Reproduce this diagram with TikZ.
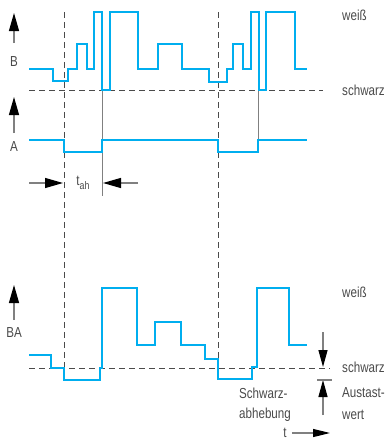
\documentclass[tikz,border=0pt]{standalone}
\usepackage{fontspec}
\setmainfont{Liberation Sans}[FakeStretch=0.8]
\usetikzlibrary{arrows.meta}
\definecolor{sigblue}{HTML}{00AEEF}
\definecolor{txtgray}{HTML}{4A4A4A}
\tikzset{
  signal/.style={line width=2.6pt, draw=sigblue},
  levelline/.style={dash pattern=on 6pt off 4pt, line width=1pt, draw=txtgray},
  marker/.style={line width=1pt, draw=gray},
  bigtip/.style={-{Triangle[length=18pt,width=10pt,black]}, line width=1.2pt, draw=gray},
  lbl/.style={text=txtgray, font=\fontsize{14.5}{17}\selectfont, inner sep=0pt},
}
\begin{document}
\begin{tikzpicture}[x=1pt,y=-1pt]
\useasboundingbox (0,0) rectangle (389,442);
% Bezugspegel
\draw [levelline] (29,90) -- (323,90);
\draw [levelline] (29,368) -- (330,368);
\draw [levelline] (64,12) -- (64,368);
\draw [levelline] (218,12) -- (218,359);
\draw [marker] (102,90) -- (102,196);
\draw [marker] (258,90) -- (258,140);
% Signale
\draw [signal] (29,69) -| (53,81) -| (68,69) -| (77,44) -| (87,69) -| (94,12) -| (102,90) -| (110,12)
  -| (138,69) -| (158,44) -| (182,69) -| (209,82) -| (227,69) -| (233,44) -| (243,69) -| (251,12)
  -| (259,90) -| (266,12) -| (295,69) -- (307,69);
\draw [signal] (29,140) -| (64,152) -| (102,140) -| (218,152) -| (258,140) -- (307,140);
\draw [signal] (29,355) -| (51,368) -| (64,380) -| (100,368) -| (102,288) -| (137,345) -| (155,322)
  -| (181,345) -| (205,359) -| (218,379) -| (252,367) -| (257,288) -| (289,345) -- (307,345);
% Achsen
\node [lbl] (lblB) at (14,62) {B};
\node [lbl] (lblA) at (14,147) {A};
\node [lbl] (lblBA) at (14,333) {BA};
\draw [bigtip] (14,43) -- (14,13);
\draw [bigtip] (14,133) -- (14,97);
\draw [bigtip] (14,320) -- (14,285);
% t_ah
\node [lbl] (tah) at (83,183) {t\raisebox{-0.6ex}{\fontsize{11}{13}\selectfont ah}};
\draw [bigtip] (29,183) -- (63,183);
\draw [bigtip] (138,183) -- (103,183);
% Pegelnamen
\node [lbl, anchor=west] (weiss1) at (342,15) {weiß};
\node [lbl, anchor=west] (schwarz1) at (342,90) {schwarz};
\node [lbl, anchor=west] (weiss2) at (342,292) {weiß};
\node [lbl, anchor=west] (schwarz2) at (342,367) {schwarz};
\node [lbl, anchor=west] (austast) at (342,393) {Austast-};
\node [lbl, anchor=west] (wert) at (342,415) {wert};
\node [lbl, anchor=west] (abh1) at (239,393) {Schwarz-};
\node [lbl, anchor=west] (abh2) at (239,415) {abhebung};
% Austastwert
\draw [-{Triangle[length=17pt,width=9pt,black]}, line width=1.2pt, draw=gray] (323,332) -- (323,367);
\draw [-{Triangle[length=17pt,width=9pt,black]}, line width=1.2pt, draw=gray] (323,415) -- (323,380);
\draw [line width=1.2pt, draw=gray] (317,380) -- (332,380);
% Zeitachse
\node [lbl] (tlbl) at (285,433) {t};
\draw [-{Triangle[length=17pt,width=8pt,black]}, line width=1.2pt, draw=gray] (tlbl.east) ++(5,0) -- (330,433);
\end{tikzpicture}
\end{document}
